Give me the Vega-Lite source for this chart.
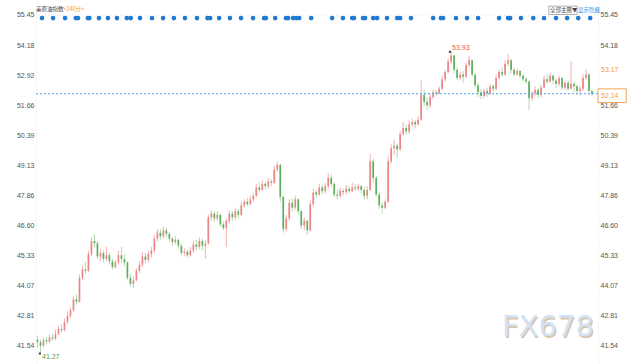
{
"$schema": "https://vega.github.io/schema/vega-lite/v6.json",
"autosize": {"type": "none"},
"padding": {"left": 36, "top": 0, "right": 29, "bottom": 0},
"width": 562,
"height": 364,
"background": "white",
"config": {"view": {"stroke": null}, "font": "Liberation Sans"},
"datasets": {
"k": [
{"t":0,"o":41.80,"c":41.70,"h":41.95,"l":41.45},
{"t":1,"o":41.70,"c":41.55,"h":41.80,"l":41.27},
{"t":2,"o":41.55,"c":41.78,"h":41.90,"l":41.48},
{"t":3,"o":41.78,"c":41.72,"h":41.92,"l":41.60},
{"t":4,"o":41.72,"c":41.90,"h":42.02,"l":41.65},
{"t":5,"o":41.90,"c":41.85,"h":42.05,"l":41.75},
{"t":6,"o":41.85,"c":42.05,"h":42.22,"l":41.78},
{"t":7,"o":42.05,"c":42.25,"h":42.40,"l":41.98},
{"t":8,"o":42.25,"c":42.20,"h":42.45,"l":42.10},
{"t":9,"o":42.20,"c":42.55,"h":42.70,"l":42.15},
{"t":10,"o":42.55,"c":42.80,"h":43.00,"l":42.45},
{"t":11,"o":42.80,"c":43.05,"h":43.15,"l":42.70},
{"t":12,"o":43.05,"c":43.50,"h":43.62,"l":42.95},
{"t":13,"o":43.50,"c":43.40,"h":43.70,"l":43.25},
{"t":14,"o":43.40,"c":44.40,"h":44.55,"l":43.35},
{"t":15,"o":44.40,"c":44.75,"h":44.90,"l":44.30},
{"t":16,"o":44.75,"c":44.70,"h":45.05,"l":44.55},
{"t":17,"o":44.70,"c":45.40,"h":45.55,"l":44.65},
{"t":18,"o":45.40,"c":45.95,"h":46.10,"l":45.30},
{"t":19,"o":45.95,"c":45.85,"h":46.22,"l":45.70},
{"t":20,"o":45.85,"c":45.30,"h":45.95,"l":45.20},
{"t":21,"o":45.30,"c":45.45,"h":45.60,"l":45.10},
{"t":22,"o":45.45,"c":45.20,"h":45.55,"l":45.05},
{"t":23,"o":45.20,"c":45.35,"h":45.70,"l":45.10},
{"t":24,"o":45.35,"c":45.10,"h":45.45,"l":44.95},
{"t":25,"o":45.10,"c":44.85,"h":45.20,"l":44.75},
{"t":26,"o":44.85,"c":45.05,"h":45.15,"l":44.80},
{"t":27,"o":45.05,"c":45.35,"h":45.55,"l":44.95},
{"t":28,"o":45.35,"c":45.20,"h":45.70,"l":45.05},
{"t":29,"o":45.20,"c":45.05,"h":45.40,"l":44.90},
{"t":30,"o":45.05,"c":44.40,"h":45.10,"l":44.30},
{"t":31,"o":44.40,"c":44.15,"h":44.55,"l":44.05},
{"t":32,"o":44.15,"c":44.30,"h":44.45,"l":43.98},
{"t":33,"o":44.30,"c":44.70,"h":44.80,"l":44.25},
{"t":34,"o":44.70,"c":44.95,"h":45.10,"l":44.60},
{"t":35,"o":44.95,"c":45.30,"h":45.50,"l":44.85},
{"t":36,"o":45.30,"c":45.15,"h":45.45,"l":45.00},
{"t":37,"o":45.15,"c":45.40,"h":45.55,"l":45.05},
{"t":38,"o":45.40,"c":45.55,"h":45.70,"l":45.25},
{"t":39,"o":45.55,"c":46.05,"h":46.20,"l":45.45},
{"t":40,"o":46.05,"c":46.30,"h":46.45,"l":45.95},
{"t":41,"o":46.30,"c":46.15,"h":46.45,"l":46.00},
{"t":42,"o":46.15,"c":46.40,"h":46.55,"l":46.05},
{"t":43,"o":46.40,"c":46.25,"h":46.50,"l":46.10},
{"t":44,"o":46.25,"c":46.05,"h":46.35,"l":45.95},
{"t":45,"o":46.05,"c":45.90,"h":46.10,"l":45.75},
{"t":46,"o":45.90,"c":46.00,"h":46.15,"l":45.80},
{"t":47,"o":46.00,"c":45.75,"h":46.05,"l":45.60},
{"t":48,"o":45.75,"c":45.45,"h":45.85,"l":45.35},
{"t":49,"o":45.45,"c":45.50,"h":45.65,"l":45.30},
{"t":50,"o":45.50,"c":45.35,"h":45.60,"l":45.25},
{"t":51,"o":45.35,"c":45.55,"h":45.70,"l":45.30},
{"t":52,"o":45.55,"c":45.80,"h":45.95,"l":45.45},
{"t":53,"o":45.80,"c":45.70,"h":46.00,"l":45.55},
{"t":54,"o":45.70,"c":45.95,"h":46.10,"l":45.60},
{"t":55,"o":45.95,"c":45.75,"h":46.05,"l":45.55},
{"t":56,"o":45.75,"c":45.85,"h":46.00,"l":45.20},
{"t":57,"o":45.85,"c":46.95,"h":47.05,"l":45.80},
{"t":58,"o":46.95,"c":47.10,"h":47.25,"l":46.80},
{"t":59,"o":47.10,"c":46.90,"h":47.20,"l":46.75},
{"t":60,"o":46.90,"c":47.05,"h":47.20,"l":46.80},
{"t":61,"o":47.05,"c":46.65,"h":47.10,"l":46.55},
{"t":62,"o":46.65,"c":46.50,"h":46.75,"l":46.40},
{"t":63,"o":46.50,"c":46.80,"h":46.90,"l":45.70},
{"t":64,"o":46.80,"c":47.10,"h":47.25,"l":46.70},
{"t":65,"o":47.10,"c":46.95,"h":47.20,"l":46.80},
{"t":66,"o":46.95,"c":47.20,"h":47.35,"l":46.85},
{"t":67,"o":47.20,"c":47.05,"h":47.30,"l":46.90},
{"t":68,"o":47.05,"c":47.45,"h":47.60,"l":47.00},
{"t":69,"o":47.45,"c":47.60,"h":47.70,"l":47.35},
{"t":70,"o":47.60,"c":47.50,"h":47.75,"l":47.40},
{"t":71,"o":47.50,"c":47.70,"h":47.85,"l":47.45},
{"t":72,"o":47.70,"c":47.85,"h":47.95,"l":47.60},
{"t":73,"o":47.85,"c":48.20,"h":48.35,"l":47.80},
{"t":74,"o":48.20,"c":48.10,"h":48.40,"l":48.00},
{"t":75,"o":48.10,"c":48.35,"h":48.50,"l":48.05},
{"t":76,"o":48.35,"c":48.25,"h":48.45,"l":48.10},
{"t":77,"o":48.25,"c":48.45,"h":48.60,"l":48.15},
{"t":78,"o":48.45,"c":48.40,"h":48.55,"l":48.25},
{"t":79,"o":48.40,"c":48.95,"h":49.10,"l":48.35},
{"t":80,"o":48.95,"c":49.15,"h":49.28,"l":48.85},
{"t":81,"o":49.15,"c":47.80,"h":49.20,"l":47.60},
{"t":82,"o":47.80,"c":46.45,"h":47.85,"l":46.30},
{"t":83,"o":46.45,"c":46.90,"h":47.05,"l":46.35},
{"t":84,"o":46.90,"c":47.55,"h":47.70,"l":46.80},
{"t":85,"o":47.55,"c":47.35,"h":47.75,"l":47.20},
{"t":86,"o":47.35,"c":47.70,"h":47.85,"l":47.25},
{"t":87,"o":47.70,"c":47.20,"h":47.75,"l":47.05},
{"t":88,"o":47.20,"c":46.60,"h":47.25,"l":46.45},
{"t":89,"o":46.60,"c":46.80,"h":46.95,"l":46.40},
{"t":90,"o":46.80,"c":46.40,"h":46.85,"l":46.22},
{"t":91,"o":46.40,"c":47.50,"h":47.65,"l":46.35},
{"t":92,"o":47.50,"c":48.00,"h":48.15,"l":47.40},
{"t":93,"o":48.00,"c":47.90,"h":48.10,"l":47.75},
{"t":94,"o":47.90,"c":48.20,"h":48.35,"l":47.85},
{"t":95,"o":48.20,"c":48.05,"h":48.30,"l":47.90},
{"t":96,"o":48.05,"c":48.25,"h":48.40,"l":47.95},
{"t":97,"o":48.25,"c":48.60,"h":48.80,"l":48.15},
{"t":98,"o":48.60,"c":48.35,"h":48.75,"l":48.20},
{"t":99,"o":48.35,"c":47.90,"h":48.40,"l":47.80},
{"t":100,"o":47.90,"c":47.85,"h":48.10,"l":47.70},
{"t":101,"o":47.85,"c":48.05,"h":48.20,"l":47.75},
{"t":102,"o":48.05,"c":48.00,"h":48.15,"l":47.85},
{"t":103,"o":48.00,"c":48.15,"h":48.30,"l":47.90},
{"t":104,"o":48.15,"c":48.05,"h":48.25,"l":47.95},
{"t":105,"o":48.05,"c":48.20,"h":48.40,"l":48.00},
{"t":106,"o":48.20,"c":48.15,"h":48.35,"l":48.05},
{"t":107,"o":48.15,"c":48.25,"h":48.35,"l":48.05},
{"t":108,"o":48.25,"c":48.10,"h":48.30,"l":47.95},
{"t":109,"o":48.10,"c":47.85,"h":48.20,"l":47.70},
{"t":110,"o":47.85,"c":48.10,"h":48.25,"l":47.70},
{"t":111,"o":48.10,"c":49.30,"h":49.60,"l":48.05},
{"t":112,"o":49.30,"c":48.60,"h":49.40,"l":48.40},
{"t":113,"o":48.60,"c":47.90,"h":48.70,"l":47.80},
{"t":114,"o":47.90,"c":47.45,"h":48.00,"l":47.30},
{"t":115,"o":47.45,"c":47.35,"h":47.60,"l":47.10},
{"t":116,"o":47.35,"c":47.60,"h":47.70,"l":47.30},
{"t":117,"o":47.60,"c":49.30,"h":49.50,"l":47.55},
{"t":118,"o":49.30,"c":49.85,"h":50.00,"l":49.20},
{"t":119,"o":49.85,"c":49.95,"h":50.20,"l":49.55},
{"t":120,"o":49.95,"c":49.80,"h":50.05,"l":49.45},
{"t":121,"o":49.80,"c":50.45,"h":50.60,"l":49.75},
{"t":122,"o":50.45,"c":50.70,"h":50.95,"l":50.35},
{"t":123,"o":50.70,"c":50.55,"h":50.85,"l":50.40},
{"t":124,"o":50.55,"c":50.85,"h":51.00,"l":50.45},
{"t":125,"o":50.85,"c":50.95,"h":51.10,"l":50.75},
{"t":126,"o":50.95,"c":50.85,"h":51.05,"l":50.70},
{"t":127,"o":50.85,"c":51.05,"h":51.20,"l":50.80},
{"t":128,"o":51.05,"c":52.10,"h":52.70,"l":51.00},
{"t":129,"o":52.10,"c":51.80,"h":52.30,"l":51.60},
{"t":130,"o":51.80,"c":51.65,"h":52.00,"l":51.45},
{"t":131,"o":51.65,"c":52.00,"h":52.15,"l":51.55},
{"t":132,"o":52.00,"c":52.20,"h":52.30,"l":51.90},
{"t":133,"o":52.20,"c":52.15,"h":52.30,"l":52.05},
{"t":134,"o":52.15,"c":52.35,"h":52.45,"l":52.10},
{"t":135,"o":52.35,"c":52.75,"h":52.90,"l":52.30},
{"t":136,"o":52.75,"c":53.05,"h":53.15,"l":52.65},
{"t":137,"o":53.05,"c":53.50,"h":53.65,"l":53.00},
{"t":138,"o":53.50,"c":53.75,"h":53.93,"l":53.40},
{"t":139,"o":53.75,"c":53.15,"h":53.80,"l":53.00},
{"t":140,"o":53.15,"c":52.80,"h":53.25,"l":52.70},
{"t":141,"o":52.80,"c":52.95,"h":53.05,"l":52.70},
{"t":142,"o":52.95,"c":52.85,"h":53.10,"l":52.60},
{"t":143,"o":52.85,"c":53.35,"h":53.45,"l":52.80},
{"t":144,"o":53.35,"c":53.55,"h":53.75,"l":53.25},
{"t":145,"o":53.55,"c":52.95,"h":53.60,"l":52.85},
{"t":146,"o":52.95,"c":52.50,"h":53.00,"l":52.40},
{"t":147,"o":52.50,"c":52.20,"h":52.60,"l":52.00},
{"t":148,"o":52.20,"c":52.05,"h":52.35,"l":51.90},
{"t":149,"o":52.05,"c":52.25,"h":52.35,"l":51.95},
{"t":150,"o":52.25,"c":52.15,"h":52.40,"l":52.00},
{"t":151,"o":52.15,"c":52.45,"h":52.55,"l":52.10},
{"t":152,"o":52.45,"c":52.35,"h":52.55,"l":52.20},
{"t":153,"o":52.35,"c":52.80,"h":52.95,"l":52.30},
{"t":154,"o":52.80,"c":53.05,"h":53.15,"l":52.70},
{"t":155,"o":53.05,"c":52.95,"h":53.25,"l":52.85},
{"t":156,"o":52.95,"c":53.40,"h":53.55,"l":52.90},
{"t":157,"o":53.40,"c":53.55,"h":53.80,"l":53.30},
{"t":158,"o":53.55,"c":53.15,"h":53.60,"l":53.00},
{"t":159,"o":53.15,"c":52.95,"h":53.25,"l":52.85},
{"t":160,"o":52.95,"c":53.10,"h":53.20,"l":52.90},
{"t":161,"o":53.10,"c":52.90,"h":53.15,"l":52.80},
{"t":162,"o":52.90,"c":52.75,"h":53.00,"l":52.65},
{"t":163,"o":52.75,"c":52.65,"h":52.85,"l":52.55},
{"t":164,"o":52.65,"c":51.95,"h":52.70,"l":51.46},
{"t":165,"o":51.95,"c":52.15,"h":52.25,"l":51.85},
{"t":166,"o":52.15,"c":52.30,"h":52.45,"l":52.05},
{"t":167,"o":52.30,"c":52.10,"h":52.40,"l":51.95},
{"t":168,"o":52.10,"c":52.40,"h":52.50,"l":52.00},
{"t":169,"o":52.40,"c":52.75,"h":52.90,"l":52.35},
{"t":170,"o":52.75,"c":52.65,"h":52.95,"l":52.55},
{"t":171,"o":52.65,"c":52.90,"h":53.00,"l":52.60},
{"t":172,"o":52.90,"c":52.70,"h":52.95,"l":52.55},
{"t":173,"o":52.70,"c":52.55,"h":52.80,"l":52.40},
{"t":174,"o":52.55,"c":52.80,"h":52.90,"l":52.45},
{"t":175,"o":52.80,"c":52.40,"h":52.85,"l":52.30},
{"t":176,"o":52.40,"c":52.60,"h":52.70,"l":52.30},
{"t":177,"o":52.60,"c":52.35,"h":52.70,"l":52.25},
{"t":178,"o":52.35,"c":52.55,"h":53.50,"l":52.30},
{"t":179,"o":52.55,"c":52.45,"h":52.65,"l":52.20},
{"t":180,"o":52.45,"c":52.25,"h":52.50,"l":52.10},
{"t":181,"o":52.25,"c":52.35,"h":52.45,"l":52.05},
{"t":182,"o":52.35,"c":52.80,"h":52.95,"l":52.25},
{"t":183,"o":52.80,"c":52.95,"h":53.17,"l":52.70},
{"t":184,"o":52.95,"c":52.25,"h":53.00,"l":52.10},
{"t":185,"o":52.25,"c":52.14,"h":52.35,"l":52.05}
],
"dots": [
{"t":1.5},{"t":5.2},{"t":9.2},{"t":12.8},{"t":13.5},{"t":16.8},{"t":17.3},{"t":20.5},{"t":23.5},{"t":26.5},{"t":29.8},{"t":31.1},{"t":34.2},{"t":38.2},{"t":41.9},{"t":45.5},{"t":49.2},{"t":53.2},{"t":56.7},{"t":57.6},{"t":60.6},{"t":64.2},{"t":67.9},{"t":71.9},{"t":75.6},{"t":76.2},{"t":79.3},{"t":82.9},{"t":83.6},{"t":85.3},{"t":86.3},{"t":87.3},{"t":91.3},{"t":98.3},{"t":101.9},{"t":105.0},{"t":105.6},{"t":108.6},{"t":109.3},{"t":112.0},{"t":113.3},{"t":116.6},{"t":120.0},{"t":121.0},{"t":124.6},{"t":132.0},{"t":134.6},{"t":135.3},{"t":139.6},{"t":143.3},{"t":147.0},{"t":154.0},{"t":157.0},{"t":157.7},{"t":161.3},{"t":165.4},{"t":169.0},{"t":173.0},{"t":176.7},{"t":180.4},{"t":184.4}
]
},
"layer": [
{
"data": {"name": "k"},
"mark": {"type": "rule", "strokeWidth": 1},
"encoding": {
"x": {"field": "t", "type": "quantitative", "scale": {"domain": [-0.5, 187], "nice": false, "zero": false}, "axis": null},
"y": {"field": "l", "type": "quantitative", "scale": {"domain": [40.78, 56.08], "nice": false, "zero": false},
"axis": {"orient": "left", "title": null, "values": [41.54, 42.81, 44.07, 45.33, 46.60, 47.86, 49.13, 50.39, 51.66, 52.92, 54.18, 55.45], "format": ".2f", "labelFontSize": 7, "labelColor": "#555", "ticks": false, "labelPadding": 2, "domainColor": "#e4e4e4", "domainDash": [1, 2], "grid": false}},
"y2": {"field": "h"},
"color": {"condition": {"test": "datum.c >= datum.o", "value": "#f3b0b0"}, "value": "#b5d9ad"}
}
},
{
"data": {"name": "k"},
"mark": {"type": "rule", "strokeWidth": 1.7},
"encoding": {
"x": {"field": "t", "type": "quantitative"},
"y": {"field": "o", "type": "quantitative",
"axis": {"orient": "right", "title": null, "values": [41.54, 42.81, 44.07, 45.33, 46.60, 47.86, 49.13, 50.39, 51.66, 54.18, 55.45], "format": ".2f", "labelFontSize": 7, "labelColor": "#555", "ticks": false, "labelPadding": 2, "domainColor": "#e4e4e4", "domainDash": [1, 2], "grid": false}},
"y2": {"field": "c"},
"color": {"condition": {"test": "datum.c >= datum.o", "value": "#ec8585"}, "value": "#5fae5f"}
}
},
{
"data": {"values": [{"p": 55.45}]},
"mark": {"type": "rule", "color": "#e2e2e2", "strokeDash": [1, 2], "strokeWidth": 1},
"encoding": {"y": {"field": "p", "type": "quantitative", "axis": null}}
},
{
"data": {"name": "dots"},
"mark": {"type": "point", "filled": true, "shape": "circle", "size": 22, "opacity": 1, "color": "#1f7ad0"},
"encoding": {"x": {"field": "t", "type": "quantitative"}, "y": {"datum": 55.32, "type": "quantitative", "axis": null}}
},
{
"data": {"values": [{"a": -0.5, "b": 196.5, "p": 52.14}]},
"mark": {"type": "rule", "color": "#4ea3ec", "strokeDash": [2, 2], "strokeWidth": 1},
"encoding": {"x": {"field": "a", "type": "quantitative"}, "x2": {"field": "b"}, "y": {"field": "p", "type": "quantitative", "axis": null}}
},
{
"data": {"values": [{"a": 187.0, "b": 196.4, "p1": 52.345, "p2": 51.77}]},
"mark": {"type": "rect", "fill": "white", "stroke": "#f2a552", "strokeWidth": 1},
"encoding": {"x": {"field": "a", "type": "quantitative"}, "x2": {"field": "b"}, "y": {"field": "p1", "type": "quantitative", "axis": null}, "y2": {"field": "p2"}}
},
{
"data": {"values": [
{"t": 188.0, "p": 52.05, "s": "52.14", "g": "o"},
{"t": 188.0, "p": 53.15, "s": "53.17", "g": "o"},
{"t": 138.3, "p": 54.07, "s": "53.93", "g": "r"},
{"t": 1.5, "p": 41.08, "s": "41.27", "g": "g"}
]},
"mark": {"type": "text", "align": "left", "baseline": "middle", "fontSize": 7, "font": "Liberation Sans"},
"encoding": {
"x": {"field": "t", "type": "quantitative"},
"y": {"field": "p", "type": "quantitative", "axis": null},
"text": {"field": "s"},
"color": {"field": "g", "type": "nominal", "scale": {"domain": ["o", "r", "g", "k", "b"], "range": ["#f39a3c", "#e05a5a", "#4fa64f", "#444444", "#3a8ee0"]}, "legend": null}
}
},
{
"data": {"values": [
{"t": -0.5, "p": 55.72, "s": "美原油指数", "g": "k"},
{"t": 8.6, "p": 55.72, "s": "<240分>", "g": "o"},
{"t": 171.0, "p": 55.65, "s": "全部主图▼", "g": "k"},
{"t": 180.3, "p": 55.65, "s": "显示隐藏", "g": "b"}
]},
"mark": {"type": "text", "align": "left", "baseline": "middle", "fontSize": 5.5, "font": "Noto Sans CJK SC"},
"encoding": {
"x": {"field": "t", "type": "quantitative"},
"y": {"field": "p", "type": "quantitative", "axis": null},
"text": {"field": "s"},
"color": {"field": "g", "type": "nominal", "legend": null}
}
},
{
"data": {"values": [{"t": 137.6, "p": 53.90}, {"t": 0.8, "p": 41.22}]},
"mark": {"type": "point", "shape": "square", "filled": true, "size": 5, "color": "#555", "opacity": 1},
"encoding": {"x": {"field": "t", "type": "quantitative"}, "y": {"field": "p", "type": "quantitative", "axis": null}}
},
{
"data": {"values": [{"a": 170.6, "b": 180.0, "p1": 55.82, "p2": 55.47}]},
"mark": {"type": "rect", "fill": "#f7f7f7", "fillOpacity": 0, "stroke": "#9a9a9a", "strokeWidth": 0.8},
"encoding": {"x": {"field": "a", "type": "quantitative"}, "x2": {"field": "b"}, "y": {"field": "p1", "type": "quantitative", "axis": null}, "y2": {"field": "p2"}}
},
{
"data": {"values": [{"t": 170.3, "p": 42.32, "s": "FX678"}]},
"mark": {"type": "text", "align": "center", "baseline": "middle", "fontSize": 29, "font": "DejaVu Sans", "color": "#d8c6b0", "dx": 1.2, "dy": 1.2},
"encoding": {"x": {"field": "t", "type": "quantitative"}, "y": {"field": "p", "type": "quantitative", "axis": null}, "text": {"field": "s"}}
},
{
"data": {"values": [{"t": 170.3, "p": 42.32, "s": "FX678"}]},
"mark": {"type": "text", "align": "center", "baseline": "middle", "fontSize": 29, "font": "DejaVu Sans", "color": "#d3e2f4"},
"encoding": {"x": {"field": "t", "type": "quantitative"}, "y": {"field": "p", "type": "quantitative", "axis": null}, "text": {"field": "s"}}
}
],
"resolve": {"axis": {"y": "independent"}}
}
